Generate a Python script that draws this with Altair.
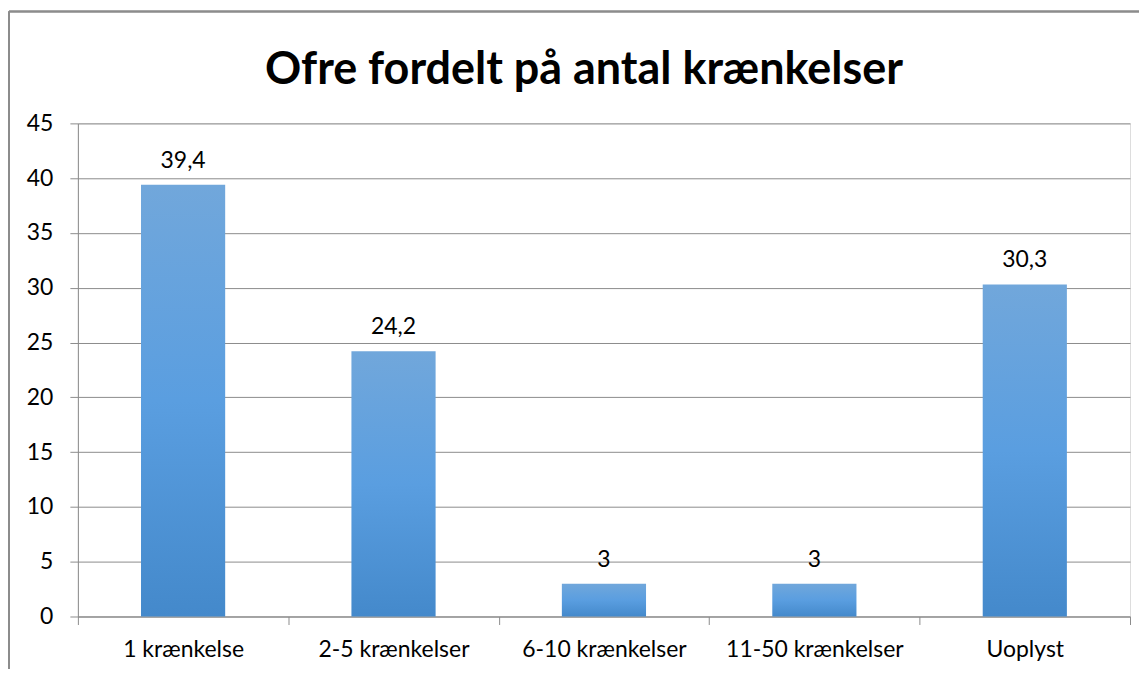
import altair as alt
import pandas as pd

categories = ["1 krænkelse", "2-5 krænkelser", "6-10 krænkelser", "11-50 krænkelser", "Uoplyst"]
values = [39.4, 24.2, 3, 3, 30.3]
y_ticks = [0, 5, 10, 15, 20, 25, 30, 35, 40, 45]

df = pd.DataFrame({"cat": categories, "value": values})

GRAY = "#8c8c8c"
FONT = "Lato"

x_enc = alt.X(
    "cat:N",
    sort=categories,
    scale=alt.Scale(paddingInner=0, paddingOuter=0),
    axis=alt.Axis(
        title=None,
        labelAngle=0,
        labelFont=FONT,
        labelFontSize=23,
        labelColor="#000000",
        labelPadding=14,
        tickBand="extent",
        tickSize=8,
        tickColor=GRAY,
        domainColor=GRAY,
        grid=False,
    ),
)
y_enc = alt.Y(
    "value:Q",
    scale=alt.Scale(domain=[0, 45], nice=False),
    axis=alt.Axis(
        title=None,
        values=y_ticks,
        labelFont=FONT,
        labelFontSize=23,
        labelColor="#000000",
        labelPadding=17,
        tickSize=8,
        tickColor=GRAY,
        domainColor=GRAY,
        gridColor=GRAY,
        grid=True,
    ),
)

gradient = alt.Gradient(
    gradient="linear",
    stops=[
        alt.GradientStop(color="#71a7db", offset=0),
        alt.GradientStop(color="#5a9ee0", offset=0.5),
        alt.GradientStop(color="#4489cb", offset=1),
    ],
    x1=0, x2=0, y1=0, y2=1,
)

base = alt.Chart(df)

bars = base.mark_bar(width={"band": 0.4}, color=gradient).encode(x=x_enc, y=y_enc)

labels = base.transform_calculate(
    label="replace(format(datum.value, '.1~f'), '.', ',')"
).mark_text(
    font=FONT, fontSize=23, color="#000000", baseline="bottom", dy=-12
).encode(x=alt.X("cat:N", sort=categories), y="value:Q", text="label:N")

border_left = base.mark_rule(color=GRAY, strokeWidth=1.5).encode(
    x=alt.value(-69), y=alt.value(-112), y2=alt.value(560)
)
border_top = base.mark_rule(color=GRAY, strokeWidth=1.5).encode(
    x=alt.value(-69), x2=alt.value(1080), y=alt.value(-112)
)

chart = (
    alt.layer(bars, labels, border_left, border_top)
    .properties(
        width=1054,
        height=494,
        title=alt.TitleParams(
            "Ofre fordelt på antal krænkelser",
            font=FONT,
            fontSize=45,
            fontWeight="bold",
            color="#000000",
            anchor="middle",
            dx=-20,
            offset=-82,
        ),
        autosize=alt.AutoSizeParams(type="none"),
        padding={"left": 70, "top": 115, "right": 9, "bottom": 52},
    )
    .configure_view(stroke=None)
    .configure(background="#ffffff")
)

chart.save("out.html", embed_options={"renderer": "svg", "actions": False})
